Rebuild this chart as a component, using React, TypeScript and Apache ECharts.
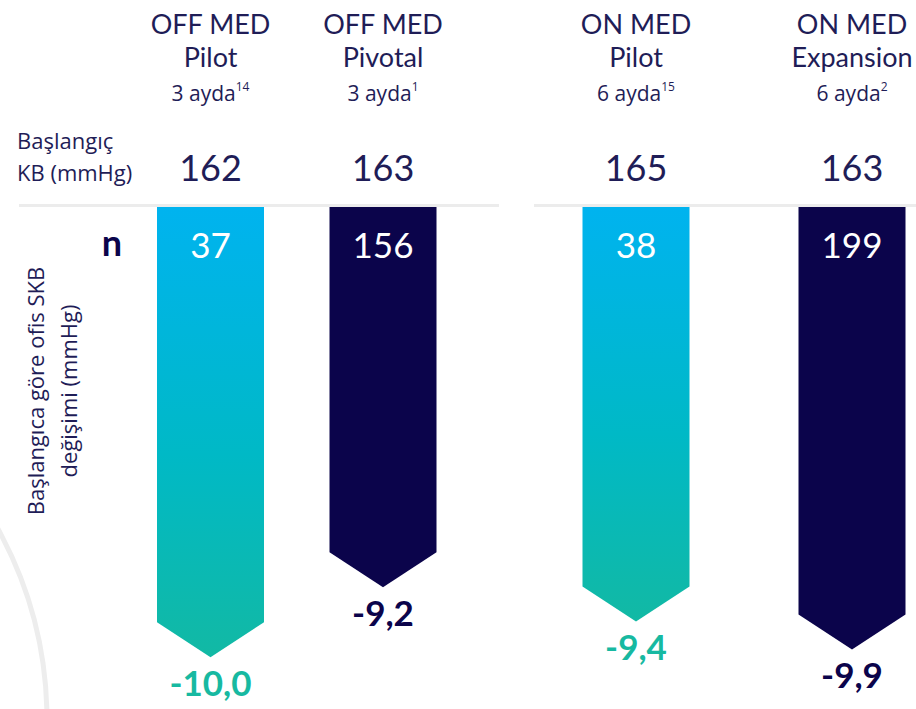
import { useEffect, useRef } from 'react';
import * as echarts from 'echarts';

const groupNames = ['OFF MED', 'OFF MED', 'ON MED', 'ON MED'];
const studyNames = ['Pilot', 'Pivotal', 'Pilot', 'Expansion'];
const timepoints = ['3 ayda', '3 ayda', '6 ayda', '6 ayda'];
const references = ['14', '1', '15', '2'];
const baselineSBP = [162, 163, 165, 163];
const nValues = [37, 156, 38, 199];
const sbpChange = [-10.0, -9.2, -9.4, -9.9];
const categories = studyNames.map((s, i) => `${groupNames[i]} ${s}`);

const NAVY = '#0b044b';
const TEXT = '#1f1d57';
const TEAL = '#17b9a1';
const FONT = 'Lato, "Noto Sans", sans-serif';
const WFONT = '"Open Sans", Lato, sans-serif';

const fmt = (v: number) => v.toFixed(1).replace('.', ',');

const makeRender = (offset: number) => (params: any, api: any) => {
  const i = offset + params.dataIndex;
  const tip = api.coord([api.value(0), api.value(1)]);
  const cx = tip[0];
  const top = params.coordSys.y;
  const w = 107;
  const head = 35;
  const pilot = i % 2 === 0;
  const fill = pilot
    ? new echarts.graphic.LinearGradient(0, 0, 0, 1, [
        { offset: 0, color: '#00b3ef' },
        { offset: 0.55, color: '#00b9c6' },
        { offset: 1, color: '#12b9a4' },
      ])
    : NAVY;
  const txt = (text: string, y: number, size: number, color: string, weight: any = 'normal', family = FONT, lineHeight?: number) => ({
    type: 'text',
    x: cx,
    y,
    style: {
      text,
      fontSize: size,
      fontFamily: family,
      fontWeight: weight,
      fill: color,
      align: 'center',
      verticalAlign: 'middle',
      ...(lineHeight ? { lineHeight } : {}),
    },
  });
  return {
    type: 'group',
    children: [
      {
        type: 'polygon',
        shape: {
          points: [
            [cx - w / 2, top],
            [cx + w / 2, top],
            [cx + w / 2, tip[1] - head],
            [cx, tip[1]],
            [cx - w / 2, tip[1] - head],
          ],
        },
        style: { fill },
      },
      txt(String(nValues[i]), 244, 35, '#ffffff'),
      txt(fmt(sbpChange[i]), tip[1] + 25, 35, pilot ? TEAL : NAVY, 'bold'),
      txt(`${groupNames[i]}\n${studyNames[i]}`, 40, 27, TEXT, 'normal', FONT, 33),
      {
        type: 'text',
        x: cx,
        y: 93,
        style: {
          text: `{t|${timepoints[i]}}{s|${references[i]}}`,
          align: 'center',
          verticalAlign: 'middle',
          rich: {
            t: { fontSize: 21, fontFamily: WFONT, fill: TEXT, lineHeight: 26 },
            s: { fontSize: 12, fontFamily: WFONT, fill: TEXT, verticalAlign: 'top' },
          },
        },
      },
      txt(String(baselineSBP[i]), 167, 36, TEXT),
    ],
  };
};

export default function App() {
  const ref = useRef<HTMLDivElement>(null);
  useEffect(() => {
    if (!ref.current) return;
    const chart = echarts.init(ref.current, null, { renderer: 'svg' });
    chart.setOption({
      animation: false,
      backgroundColor: '#ffffff',
      grid: [
        { left: 210.5, right: 533, top: 207, height: 494 },
        { left: 636, right: 64, top: 207, height: 476 },
      ],
      xAxis: [
        { type: 'category', gridIndex: 0, data: categories.slice(0, 2), boundaryGap: false, show: false },
        { type: 'category', gridIndex: 1, data: categories.slice(2, 4), boundaryGap: false, show: false },
      ],
      yAxis: [
        { type: 'value', gridIndex: 0, min: -10.5, max: -4.85, show: false },
        { type: 'value', gridIndex: 1, min: -10.5, max: -2, show: false },
      ],
      graphic: [
        {
          type: 'circle',
          z: -10,
          shape: { cx: -350, cy: 720, r: 397 },
          style: { fill: 'none', stroke: '#ededed', lineWidth: 5 },
        },
        { type: 'line', shape: { x1: 19, y1: 205.5, x2: 499, y2: 205.5 }, style: { stroke: '#ececec', lineWidth: 3 } },
        { type: 'line', shape: { x1: 534, y1: 205.5, x2: 916, y2: 205.5 }, style: { stroke: '#ececec', lineWidth: 3 } },
        {
          type: 'text',
          x: 17,
          y: 156,
          style: {
            text: 'Başlangıç\nKB (mmHg)',
            fontSize: 22,
            lineHeight: 32,
            fontFamily: WFONT,
            fill: TEXT,
            align: 'left',
            verticalAlign: 'middle',
          },
        },
        {
          type: 'text',
          x: 112,
          y: 242,
          style: {
            text: 'n',
            fontSize: 36,
            fontWeight: 'bold',
            fontFamily: FONT,
            fill: NAVY,
            align: 'center',
            verticalAlign: 'middle',
          },
        },
        {
          type: 'text',
          x: 51,
          y: 391,
          rotation: Math.PI / 2,
          style: {
            text: 'Başlangıca göre ofis SKB\ndeğişimi (mmHg)',
            fontSize: 22,
            lineHeight: 33,
            fontFamily: WFONT,
            fill: TEXT,
            align: 'center',
            verticalAlign: 'middle',
          },
        },
      ],
      series: [
        {
          type: 'custom',
          xAxisIndex: 0,
          yAxisIndex: 0,
          clip: false,
          renderItem: makeRender(0),
          data: sbpChange.slice(0, 2).map((v, j) => [j, v]),
        },
        {
          type: 'custom',
          xAxisIndex: 1,
          yAxisIndex: 1,
          clip: false,
          renderItem: makeRender(2),
          data: sbpChange.slice(2, 4).map((v, j) => [j, v]),
        },
      ],
    });
    return () => chart.dispose();
  }, []);
  return (
    <div
      ref={ref}
      style={{ position: 'absolute', left: 0, top: 0, width: 916, height: 709, background: '#fff' }}
    />
  );
}
